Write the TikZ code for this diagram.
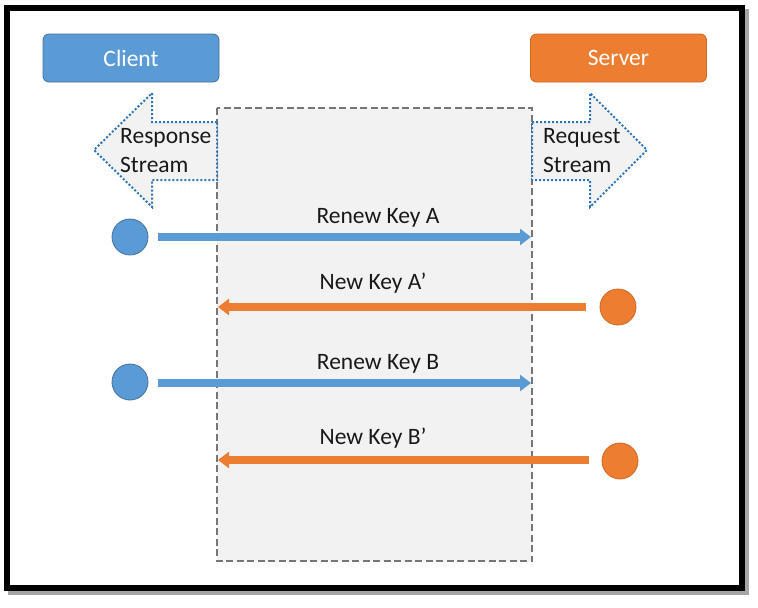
\documentclass[tikz,border=0pt]{standalone}
\usepackage{fontspec}
\setmainfont{Carlito}
\usetikzlibrary{arrows.meta}
\definecolor{cblue}{HTML}{5B9BD5}
\definecolor{cblueD}{HTML}{41719C}
\definecolor{corange}{HTML}{ED7D31}
\definecolor{corangeD}{HTML}{D0671F}
\definecolor{dotblue}{HTML}{2E75B6}
\definecolor{lgray}{HTML}{F2F2F2}
\definecolor{dgray}{HTML}{767676}
\tikzset{
  actor/.style={draw=#1D, line width=0.8pt, fill=#1, rounded corners=6pt, minimum width=176pt, minimum height=48pt, text=white, font=\fontsize{23.5}{28}\selectfont, inner sep=0pt},
  dotcirc/.style={circle, draw=#1D, line width=0.8pt, fill=#1, minimum size=36pt, inner sep=0pt},
  msg/.style={draw=#1, line width=8pt, -{Triangle[length=11pt,width=16pt]}},
  lbl/.style={font=\fontsize{23.5}{28}\selectfont, text=black!90, anchor=base, inner sep=0pt},
  streamtxt/.style={font=\fontsize{23.5}{28}\selectfont, text=black!90, anchor=base west, inner sep=0pt},
  streamarrow/.style={draw=dotblue, fill=lgray, line width=2pt, dash pattern=on 2pt off 2pt, line join=miter},
}
\begin{document}
\begin{tikzpicture}[x=1pt,y=-1pt]
\useasboundingbox (0,0) rectangle (758,608);
% frame with shadow
\draw[line width=6pt, black!35] (11,12) rectangle (746,592);
\fill[white] (7,8) rectangle (742,588);
\draw[line width=6pt, black] (7,8) rectangle (742,588);
% central area
\draw[fill=lgray, draw=dgray, line width=2.2pt, dash pattern=on 7pt off 3.5pt] (217,108) rectangle (532,561);
% stream arrows
\draw[streamarrow] (217,122) -- (152,122) -- (152,93) -- (94,150) -- (152,207) -- (152,180) -- (217,180) -- cycle;
\draw[streamarrow] (532,122) -- (590,122) -- (590,93) -- (647,150) -- (590,207) -- (590,180) -- (532,180) -- cycle;
\node[streamtxt] (resp1) at (120,143) {Response};
\node[streamtxt] (resp2) at (120,172) {Stream};
\node[streamtxt] (req1) at (543,143) {Request};
\node[streamtxt] (req2) at (543,172) {Stream};
% actors
\node[actor=cblue] (client) at (131,58) {Client};
\node[actor=corange] (server) at (618.5,58) {Server};
% endpoint circles
\node[dotcirc=cblue] (c1) at (130,237) {};
\node[dotcirc=corange] (s1) at (618,307) {};
\node[dotcirc=cblue] (c2) at (130,382) {};
\node[dotcirc=corange] (s2) at (620,461) {};
% arrow endpoints
\coordinate (a1s) at (158,237); \coordinate (a1e) at (531,237);
\coordinate (a2s) at (586,307); \coordinate (a2e) at (218,307);
\coordinate (a3s) at (158,383); \coordinate (a3e) at (531,383);
\coordinate (a4s) at (589,460); \coordinate (a4e) at (218,460);
\draw[msg=cblue] (a1s) -- (a1e);
\draw[msg=corange] (a2s) -- (a2e);
\draw[msg=cblue] (a3s) -- (a3e);
\draw[msg=corange] (a4s) -- (a4e);
% labels
\node[lbl] (l1) at (378,223) {Renew Key A};
\node[lbl] (l2) at (373,289) {New Key A’};
\node[lbl] (l3) at (378,369) {Renew Key B};
\node[lbl] (l4) at (373,444) {New Key B’};
\end{tikzpicture}
\end{document}
